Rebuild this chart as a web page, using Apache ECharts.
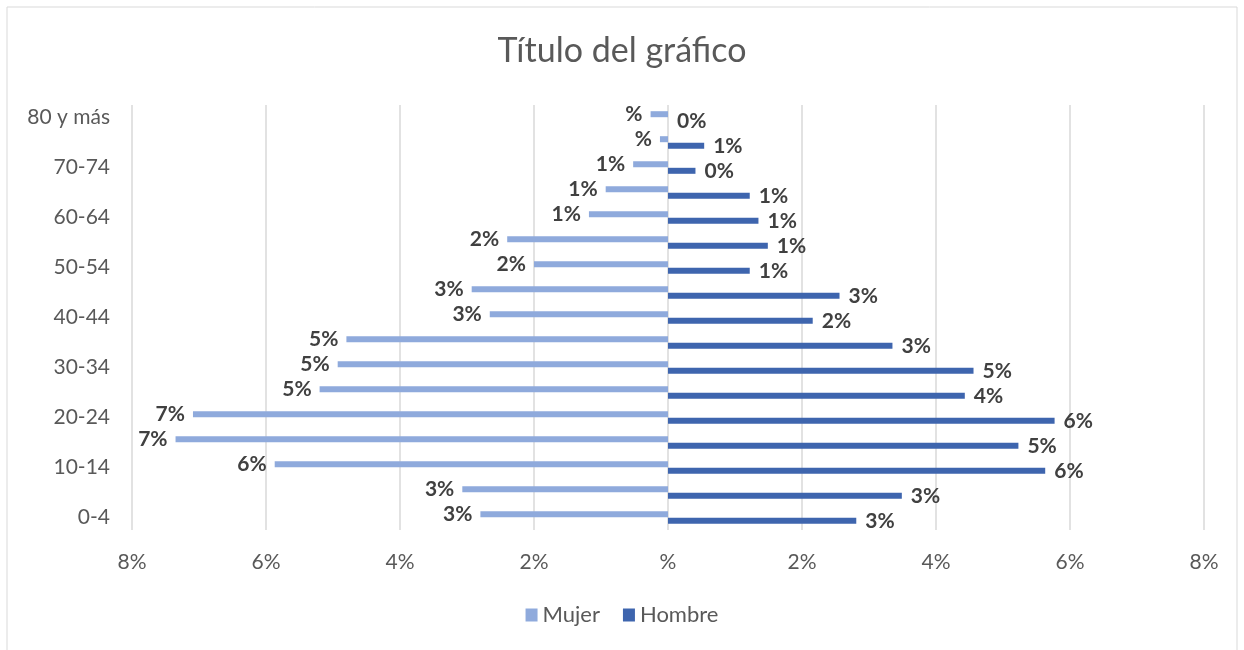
<!DOCTYPE html>
<html>
<head>
<meta charset="utf-8">
<script src="https://cdn.jsdelivr.net/npm/echarts@6/dist/echarts.min.js"></script>
<style>
    html, body {margin: 0; padding: 0; background: #fff;}
    #main {width: 1244px; height: 650px;}
</style>
</head>
<body>
<div id="main"></div>
<script>
// grupos de edad, de abajo hacia arriba
var categorias = ['0-4', '5-9', '10-14', '15-19', '20-24', '25-29', '30-34', '35-39', '40-44',
    '45-49', '50-54', '55-59', '60-64', '65-69', '70-74', '75-79', '80 y más'];
// porcentajes (fracción), mujer se dibuja hacia la izquierda
var mujer = [0.0280, 0.0307, 0.0587, 0.0735, 0.0709, 0.0520, 0.0493, 0.0480, 0.0266,
    0.0293, 0.0200, 0.0240, 0.0118, 0.0093, 0.0052, 0.0012, 0.0026];
var hombre = [0.0281, 0.0349, 0.0563, 0.0523, 0.0577, 0.0443, 0.0456, 0.0335, 0.0216,
    0.0256, 0.0122, 0.0149, 0.0135, 0.0122, 0.0041, 0.0054, 0];
var ticksX = [-0.08, 0.08, 0.02];

var fuente = 'Lato';

function pct(v) {
    var n = Math.round(Math.abs(v) * 100);
    return (n === 0 ? '' : n) + '%';
}

var option = {
    backgroundColor: '#fff',
    textStyle: {fontFamily: fuente},
    title: {
        text: 'Título del gráfico',
        left: 'center',
        top: 29,
        textStyle: {fontFamily: fuente, fontSize: 34, fontWeight: 'normal', color: '#595959'}
    },
    legend: {
        bottom: 19,
        left: 'center',
        icon: 'rect',
        itemWidth: 12,
        itemHeight: 13,
        itemGap: 23,
        textStyle: {fontFamily: fuente, fontSize: 22, color: '#595959'},
        data: ['Mujer', 'Hombre']
    },
    grid: {left: 132, right: 40, top: 105, bottom: 120},
    xAxis: {
        type: 'value',
        min: ticksX[0],
        max: ticksX[1],
        interval: ticksX[2],
        axisLine: {show: false},
        axisTick: {show: false},
        splitLine: {lineStyle: {color: '#d9d9d9', width: 1.5}},
        axisLabel: {
            margin: 22,
            fontFamily: fuente,
            fontSize: 21,
            color: '#595959',
            formatter: function (v) { return pct(v); }
        }
    },
    yAxis: {
        type: 'category',
        data: categorias,
        axisLine: {show: false},
        axisTick: {show: false},
        axisLabel: {
            interval: 1,
            margin: 22,
            fontFamily: fuente,
            fontSize: 21,
            color: '#595959'
        }
    },
    series: [
        {
            name: 'Mujer',
            type: 'bar',
            barWidth: 6,
            barGap: '10%',
            itemStyle: {color: '#8FAADC'},
            label: {
                show: true,
                position: 'left',
                distance: 8,
                fontFamily: fuente,
                fontSize: 21,
                fontWeight: 'bold',
                color: '#404040',
                formatter: function (p) { return pct(p.value); }
            },
            data: mujer.map(function (v) { return -v; })
        },
        {
            name: 'Hombre',
            type: 'bar',
            barWidth: 6,
            itemStyle: {color: '#3E65AE'},
            label: {
                show: true,
                position: 'right',
                distance: 9,
                fontFamily: fuente,
                fontSize: 21,
                fontWeight: 'bold',
                color: '#404040',
                formatter: function (p) { return Math.round(p.value * 100) + '%'; }
            },
            data: hombre
        }
    ],
    graphic: [{
        type: 'rect',
        shape: {x: 7, y: 7, width: 1230, height: 660},
        style: {fill: 'none', stroke: '#d9d9d9', lineWidth: 1}
    }]
};

var chart = echarts.init(document.getElementById('main'));
chart.setOption(option);
</script>
</body>
</html>
